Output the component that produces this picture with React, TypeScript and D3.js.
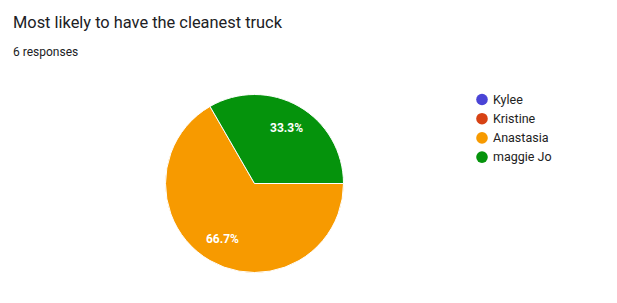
import React from "react";
import * as d3 from "d3";

const categories = ["Kylee", "Kristine", "Anastasia", "maggie Jo"];
const values = [0, 0, 4, 2];
const colors = ["#4a44d6", "#d74214", "#f79a00", "#05930c"];
const title = "Most likely to have the cleanest truck";
const subtitle = "6 responses";

export default function App() {
  const W = 617, H = 303;
  const cx = 254.5, cy = 183.5, r = 89;
  const total = d3.sum(values);
  const pie = d3.pie<number>().sort(null).startAngle(Math.PI / 2).endAngle(Math.PI / 2 + 2 * Math.PI);
  const arcs = pie(values);
  const arc = d3.arc<d3.PieArcDatum<number>>().innerRadius(0).outerRadius(r);
  const labelArc = d3.arc<d3.PieArcDatum<number>>().innerRadius(r * 0.72).outerRadius(r * 0.72);
  const fmt = d3.format(".1%");
  return (
    <svg width={W} height={H} style={{ position: "absolute", left: 0, top: 0, fontFamily: "Roboto, Arial, sans-serif" }}>
      <rect width={W} height={H} fill="#fff" />
      <text x={13} y={28} fontSize={16.4} fill="#202124">{title}</text>
      <text x={13} y={56} fontSize={12} fill="#202124">{subtitle}</text>
      <g transform={`translate(${cx},${cy})`}>
        {arcs.map((a, i) => a.value > 0 && (
          <path key={i} d={arc(a) || ""} fill={colors[i]} stroke="#fff" strokeWidth={1} />
        ))}
        {arcs.map((a, i) => {
          if (a.value <= 0) return null;
          const [x, y] = labelArc.centroid(a);
          return (
            <text key={"l" + i} x={x} y={y} dy="0.35em" textAnchor="middle" fontSize={12} fontWeight="bold" fill="#fff">
              {fmt(a.value / total)}
            </text>
          );
        })}
      </g>
      <g>
        {categories.map((c, i) => (
          <g key={c} transform={`translate(482,${99.5 + i * 19.2})`}>
            <circle r={5.8} fill={colors[i]} />
            <text x={11} dy="0.35em" fontSize={12.5} fill="#222">{c}</text>
          </g>
        ))}
      </g>
    </svg>
  );
}
